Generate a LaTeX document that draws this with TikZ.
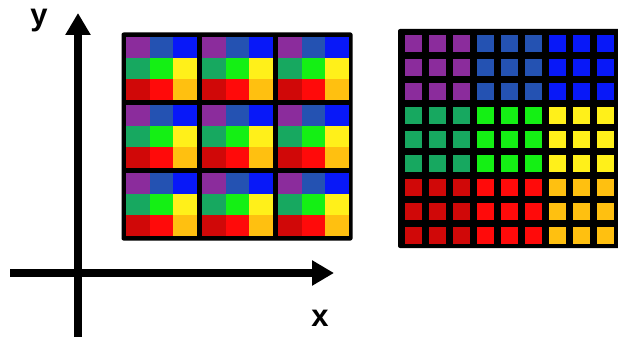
\documentclass[tikz,border=0pt]{standalone}
\usepackage{fontspec}
\setmainfont{Liberation Sans}
\usetikzlibrary{arrows.meta}
% colours of the 3x3 pixel pattern, px<row><col>
\definecolor{px00}{HTML}{8B2C9C}
\definecolor{px01}{HTML}{2452B2}
\definecolor{px02}{HTML}{0818F8}
\definecolor{px10}{HTML}{17A860}
\definecolor{px11}{HTML}{14F014}
\definecolor{px12}{HTML}{FFF01A}
\definecolor{px20}{HTML}{D00808}
\definecolor{px21}{HTML}{FF0A0A}
\definecolor{px22}{HTML}{FFC010}
\tikzset{
  axisline/.style={line width=8pt, -{Triangle[length=22pt, width=24pt]}},
  axislabel/.style={font=\fontsize{31}{36}\selectfont\bfseries, inner sep=0pt, anchor=base},
  gridframe/.style={fill=black, rounded corners=2pt}
}

\begin{document}
\begin{tikzpicture}[x=1pt, y=-1pt]
  \useasboundingbox (0,0) rectangle (618,337);

  % axes
  \coordinate (yfoot) at (78,337);
  \coordinate (ytip) at (78,13);
  \coordinate (xfoot) at (10,273);
  \coordinate (xtip) at (334,273);
  \draw[axisline] (yfoot) -- (ytip);
  \draw[axisline] (xfoot) -- (xtip);
  \node[axislabel] (ylabel) at (39,26) {y};
  \node[axislabel] (xlabel) at (320,326) {x};

  % tiled blocks
  \fill[gridframe] (121.5,32.5) rectangle (352.5,240.5);
  \foreach \bi in {0,1,2}
    \foreach \bj in {0,1,2}
      \foreach \r in {0,1,2}
        \foreach \c in {0,1,2}
          \fill[px\r\c] ({126+76*\bi+71/3*\c},{37+68*\bj+21*\r}) rectangle +(71/3,21);

  % regrouped pixels
  \fill[gridframe] (398,29) rectangle (622,248);
  \foreach \r in {0,...,8}
    \foreach \c in {0,...,8} {
      \pgfmathtruncatemacro{\gr}{div(\r,3)}
      \pgfmathtruncatemacro{\gc}{div(\c,3)}
      \fill[px\gr\gc] ({405+24*\c},{35+24*\r}) rectangle +(17,17);
    }
\end{tikzpicture}
\end{document}
